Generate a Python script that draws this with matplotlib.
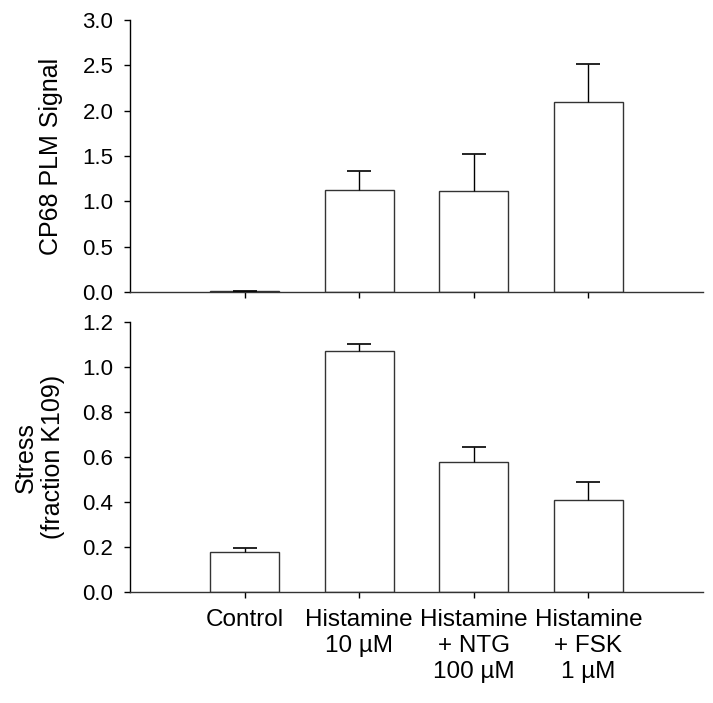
"""
plot.py - CP68 PLM signal and stress for control and histamine treatments,
two stacked bar panels with upper-only SEM bars.
"""

import numpy as np
import matplotlib
matplotlib.use("Agg")
import matplotlib.pyplot as plt

plt.rcParams["font.family"] = ["Liberation Sans", "DejaVu Sans"]
plt.rcParams["font.size"] = 16

categories = ["Control", "Histamine\n10 µM", "Histamine\n+ NTG\n100 µM",
              "Histamine\n+ FSK\n1 µM"]

# top panel: CP68 PLM signal
plm_mean = [0.01, 1.12, 1.11, 2.10]
plm_err = [0.005, 0.21, 0.41, 0.41]

# bottom panel: stress (fraction K109)
stress_mean = [0.18, 1.07, 0.58, 0.41]
stress_err = [0.015, 0.03, 0.065, 0.078]

EDGE = "#333333"


def draw(ax, mean, err, ymax, step, ylabel):
    x = np.arange(1, len(mean) + 1)
    ax.bar(x, mean, width=0.6, color="white", edgecolor=EDGE, linewidth=1.0,
           zorder=2)
    _, caps, _ = ax.errorbar(x, mean, yerr=[np.zeros(len(err)), err],
                             fmt="none", ecolor="black", elinewidth=1.0,
                             capsize=8.5, capthick=1.2, zorder=3)
    caps[0].set_visible(False)          # no cap sitting on the bar top
    ax.set_xlim(0, 5)
    ax.set_ylim(0, ymax)
    ax.set_yticks(np.arange(0, ymax + step / 2, step))
    ax.yaxis.set_major_formatter(matplotlib.ticker.FormatStrFormatter("%.1f"))
    ax.set_xticks(x)
    for s in ("top", "right"):
        ax.spines[s].set_visible(False)
    for s in ("left", "bottom"):
        ax.spines[s].set_linewidth(1.0)
    ax.spines["bottom"].set_color(EDGE)
    ax.tick_params(direction="out", length=4, width=1.0, colors="black")
    ax.tick_params(axis="y", labelsize=16, pad=8)
    ax.tick_params(axis="x", labelsize=17.5, pad=8)
    ax.set_ylabel(ylabel, fontsize=18, linespacing=1.2)


fig = plt.figure(figsize=(7.13, 7.03), dpi=100)
ax1 = fig.add_axes([0.1823, 0.5846, 0.8037, 0.387])
ax2 = fig.add_axes([0.1823, 0.1575, 0.8037, 0.3845])

draw(ax1, plm_mean, plm_err, 3.0, 0.5, "CP68 PLM Signal")
draw(ax2, stress_mean, stress_err, 1.2, 0.2, "Stress\n(fraction K109)")

ax1.set_xticklabels([])
ax2.set_xticklabels(categories, linespacing=1.25)
ax1.yaxis.set_label_coords(-0.117, 0.5)
ax2.yaxis.set_label_coords(-0.113, 0.5)

fig.savefig("out.png", dpi=100)
